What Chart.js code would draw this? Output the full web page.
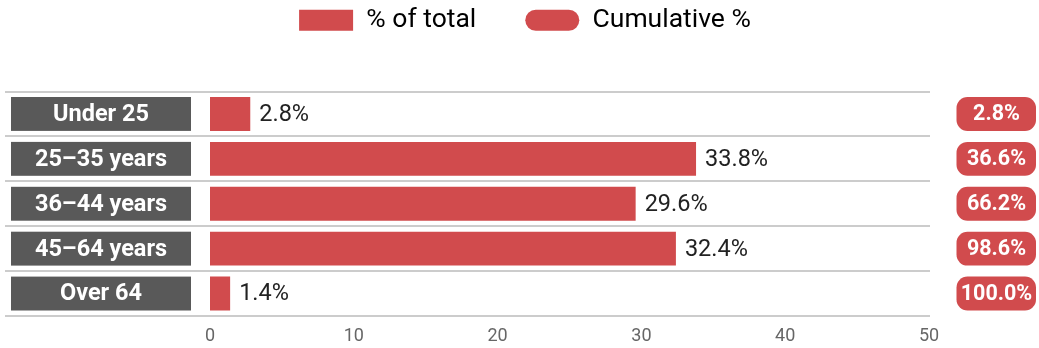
<!DOCTYPE html>
<html><head><meta charset="utf-8">
<script src="https://cdn.jsdelivr.net/npm/chart.js@4/dist/chart.umd.min.js"></script>
<style>html,body{margin:0;padding:0;background:#fff}#wrap{width:1039px;height:348px}</style>
</head><body><div id="wrap"><canvas id="c"></canvas></div>
<script>
const categories = ["Under 25", "25\u201335 years", "36\u201344 years", "45\u201364 years", "Over 64"];
const pctOfTotal = [2.8, 33.8, 29.6, 32.4, 1.4];
const cumulativePct = [2.8, 36.6, 66.2, 98.6, 100.0];
const xTicks = [0, 10, 20, 30, 40, 50];
const seriesNames = ["% of total", "Cumulative %"];

const RED = '#d14b4d';
const GRAY = '#595959';
const FONT = 'Roboto';

function rr(ctx, x, y, w, h, r) {
  ctx.beginPath();
  ctx.moveTo(x + r, y);
  ctx.lineTo(x + w - r, y);
  ctx.arcTo(x + w, y, x + w, y + r, r);
  ctx.lineTo(x + w, y + h - r);
  ctx.arcTo(x + w, y + h, x + w - r, y + h, r);
  ctx.lineTo(x + r, y + h);
  ctx.arcTo(x, y + h, x, y + h - r, r);
  ctx.lineTo(x, y + r);
  ctx.arcTo(x, y, x + r, y, r);
  ctx.closePath();
}

const decor = {
  id: 'decor',
  beforeDatasetsDraw(chart) {
    const ctx = chart.ctx, ys = chart.scales.y, area = chart.chartArea;
    ctx.save();
    ctx.strokeStyle = '#cccccc';
    ctx.lineWidth = 2;
    const n = categories.length;
    const step = ys.getPixelForValue(1) - ys.getPixelForValue(0);
    for (let i = 0; i <= n; i++) {
      const yy = Math.round(ys.getPixelForValue(i) - step / 2);
      ctx.beginPath();
      ctx.moveTo(5, yy);
      ctx.lineTo(area.right + 1, yy);
      ctx.stroke();
    }
    ctx.restore();
  },
  afterDatasetsDraw(chart) {
    const ctx = chart.ctx;
    const meta = chart.getDatasetMeta(0);
    ctx.save();
    meta.data.forEach((bar, i) => {
      const h = bar.height;
      const top = bar.y - h / 2;
      ctx.fillStyle = GRAY;
      ctx.fillRect(11, top, 180, h);
      ctx.fillStyle = '#ffffff';
      ctx.font = 'bold 23.5px ' + FONT;
      ctx.textAlign = 'center';
      ctx.textBaseline = 'middle';
      ctx.fillText(categories[i], 101, bar.y + 1);
      ctx.fillStyle = '#222222';
      ctx.font = '23.5px ' + FONT;
      ctx.textAlign = 'left';
      ctx.fillText(pctOfTotal[i].toFixed(1) + '%', bar.x + 9, bar.y + 1);
      ctx.fillStyle = RED;
      rr(ctx, 956.5, top, 79.5, h, 11);
      ctx.fill();
      ctx.fillStyle = '#ffffff';
      ctx.font = 'bold 21.5px ' + FONT;
      ctx.textAlign = 'center';
      ctx.fillText(cumulativePct[i].toFixed(1) + '%', 996.5, bar.y + 1);
    });
    ctx.restore();
  }
};

const legendSpace = {
  id: 'legendSpace',
  beforeInit(chart) {
    const orig = chart.legend.fit;
    chart.legend.fit = function () {
      orig.bind(chart.legend)();
      this.height += 48;
    };
  }
};

new Chart(document.getElementById('c'), {
  type: 'bar',
  data: {
    labels: categories,
    datasets: [{
      label: seriesNames[0],
      data: pctOfTotal,
      backgroundColor: RED,
      borderWidth: 0,
      categoryPercentage: 1,
      barPercentage: 0.755
    }]
  },
  options: {
    indexAxis: 'y',
    responsive: true,
    maintainAspectRatio: false,
    animation: false,
    layout: { padding: { left: 11, right: 0, top: -42, bottom: 2 } },
    scales: {
      x: {
        min: 0, max: 50,
        afterBuildTicks(axis) { axis.ticks = xTicks.map(v => ({ value: v })); },
        grid: { display: false, drawTicks: false },
        border: { display: false },
        ticks: { color: '#666666', font: { family: FONT, size: 18 }, padding: 10 },
        afterFit(axis) { axis.height = 30; }
      },
      y: {
        position: 'left',
        grid: { display: false, drawTicks: false },
        border: { display: false },
        ticks: { display: false },
        afterFit(axis) { axis.width = 199; }
      },
      yRight: {
        position: 'right',
        grid: { display: false, drawTicks: false },
        border: { display: false },
        ticks: { display: false },
        afterFit(axis) { axis.width = 110; }
      }
    },
    plugins: {
      tooltip: { enabled: false },
      legend: {
        position: 'top',
        labels: {
          color: '#222222',
          font: { family: FONT, size: 26.5 },
          boxWidth: 54,
          boxHeight: 21,
          padding: 49,
          useBorderRadius: true,
          generateLabels() {
            return [
              { text: seriesNames[0], fillStyle: RED, strokeStyle: RED, lineWidth: 0, borderRadius: 0, hidden: false, datasetIndex: 0 },
              { text: seriesNames[1], fillStyle: RED, strokeStyle: RED, lineWidth: 0, borderRadius: 10.5, hidden: false }
            ];
          }
        }
      }
    }
  },
  plugins: [decor, legendSpace]
});
</script>
</body></html>
